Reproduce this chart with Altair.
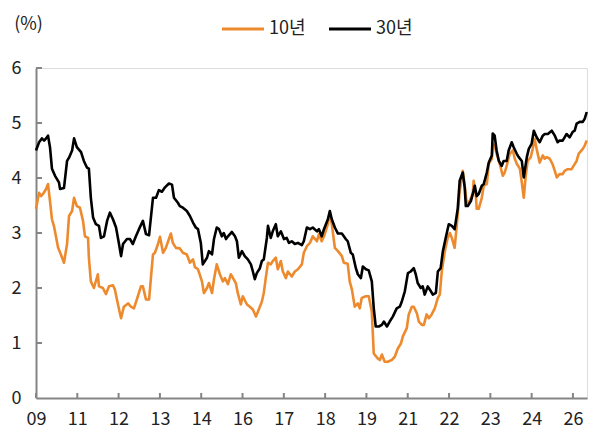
import altair as alt
import pandas as pd

# ---- data (time index in ~months, yield in %) ----
T_10Y = [0.0, 1.1, 1.8, 2.5, 3.6, 4.3, 5.0, 5.7, 6.4, 7.9,
         8.9, 10.0, 11.1, 11.8, 12.9, 13.6, 14.6, 15.7, 16.8, 17.5,
         18.6, 18.9, 19.6, 20.7, 22.1, 22.5, 23.9, 25.0, 26.1, 27.5,
         28.2, 29.3, 30.4, 31.4, 32.9, 33.9, 35.0, 36.4, 37.5, 38.2,
         39.3, 40.4, 41.8, 42.5, 43.6, 44.3, 45.4, 46.4, 47.5, 48.2,
         48.9, 50.0, 51.4, 52.5, 53.9, 55.0, 56.1, 56.8, 57.9, 59.3,
         60.0, 61.1, 61.8, 62.9, 63.6, 64.6, 65.7, 66.8, 67.5, 68.6,
         69.6, 70.4, 71.4, 72.1, 73.2, 73.9, 75.4, 76.4, 77.5, 78.6,
         79.3, 80.7, 81.4, 82.1, 82.9, 83.9, 84.6, 85.7, 86.4, 87.5,
         88.2, 89.3, 90.0, 91.4, 92.5, 93.6, 95.0, 95.7, 96.8, 97.9,
         98.9, 100.4, 101.1, 102.1, 102.9, 103.9, 104.3, 105.0, 105.7, 106.8,
         107.9, 109.3, 110.0, 111.4, 112.1, 112.9, 113.9, 115.0, 115.7, 116.4,
         117.9, 118.9, 120.0, 120.7, 122.1, 122.9, 123.6, 124.6, 125.7, 127.1,
         128.2, 129.3, 130.4, 131.1, 132.5, 133.2, 134.3, 135.0, 136.1, 136.8,
         137.9, 138.6, 139.6, 140.4, 141.4, 142.5, 143.6, 144.3, 145.0, 146.1,
         147.1, 147.9, 148.6, 149.6, 150.4, 151.4, 152.5, 153.2, 153.9, 155.0,
         156.1, 156.4, 157.1, 157.5, 158.2, 159.3, 160.0, 161.1, 161.8, 162.9,
         163.2, 163.9, 164.6, 165.7, 166.8, 167.5, 168.2, 169.3, 170.4, 171.1,
         171.8, 172.9, 173.6, 174.3, 175.0, 175.7, 176.8, 177.5, 178.2, 178.9,
         180.0, 181.1, 181.8, 182.5, 183.6, 184.6, 185.4, 186.1, 187.1, 188.2,
         188.9, 190.0, 191.4, 192.1, 193.2, 193.9, 195.4, 196.1, 196.8]
V_10Y = [3.44, 3.73, 3.67, 3.71, 3.80, 3.89, 3.58, 3.25, 3.13, 2.73,
         2.61, 2.46, 2.80, 3.31, 3.40, 3.64, 3.49, 3.46, 3.22, 2.94,
         2.91, 2.55, 2.12, 2.00, 2.25, 2.03, 2.00, 1.89, 2.03, 2.05,
         1.97, 1.70, 1.45, 1.66, 1.72, 1.66, 1.63, 1.85, 2.03, 2.03,
         1.79, 1.79, 2.61, 2.64, 2.80, 2.93, 2.64, 2.73, 2.89, 2.99,
         2.82, 2.73, 2.72, 2.64, 2.61, 2.46, 2.52, 2.38, 2.34, 2.12,
         1.91, 2.00, 2.09, 1.91, 2.16, 2.43, 2.25, 2.12, 2.18, 2.07,
         2.25, 2.18, 2.09, 1.91, 1.70, 1.85, 1.70, 1.66, 1.61, 1.48,
         1.57, 1.75, 1.91, 2.18, 2.46, 2.43, 2.49, 2.55, 2.34, 2.49,
         2.30, 2.18, 2.30, 2.21, 2.30, 2.34, 2.43, 2.64, 2.76, 2.82,
         2.94, 2.85, 2.98, 2.85, 2.94, 3.10, 3.16, 3.37, 3.16, 2.73,
         2.67, 2.58, 2.46, 2.44, 2.12, 1.97, 1.66, 1.72, 1.63, 1.82,
         1.85, 1.85, 1.57, 0.81, 0.72, 0.69, 0.79, 0.66, 0.66, 0.69,
         0.75, 0.90, 0.99, 1.12, 1.27, 1.52, 1.66, 1.66, 1.54, 1.39,
         1.33, 1.33, 1.52, 1.45, 1.52, 1.63, 1.82, 1.88, 2.30, 2.67,
         2.91, 3.00, 2.91, 2.73, 3.16, 3.75, 4.13, 3.86, 3.55, 3.58,
         3.73, 3.95, 3.73, 3.44, 3.44, 3.64, 3.86, 3.89, 4.26, 4.35,
         4.62, 4.59, 4.44, 4.26, 4.04, 4.10, 4.22, 4.44, 4.50, 4.35,
         4.26, 4.17, 3.92, 3.64, 4.04, 4.31, 4.38, 4.53, 4.71, 4.53,
         4.28, 4.41, 4.35, 4.38, 4.35, 4.25, 4.13, 4.01, 4.07, 4.07,
         4.13, 4.16, 4.16, 4.22, 4.31, 4.44, 4.53, 4.59, 4.68]

T_30Y = [0.0, 1.1, 2.1, 2.9, 3.9, 4.3, 5.0, 5.7, 6.8, 8.2,
         8.6, 10.0, 11.1, 11.8, 12.9, 13.6, 14.6, 16.1, 17.1, 18.2,
         18.9, 19.6, 20.4, 21.4, 22.5, 23.2, 24.3, 25.4, 26.4, 27.5,
         28.6, 29.6, 30.4, 31.1, 32.5, 33.6, 34.6, 35.7, 36.8, 38.2,
         39.3, 40.4, 41.8, 42.9, 43.9, 45.0, 46.1, 47.5, 48.6, 49.3,
         50.7, 51.4, 52.5, 53.9, 55.0, 56.1, 57.1, 57.9, 58.9, 59.6,
         61.1, 61.8, 62.9, 63.6, 64.6, 65.4, 66.4, 67.1, 67.9, 68.6,
         70.0, 71.1, 71.8, 72.5, 73.6, 74.6, 75.7, 76.8, 77.5, 78.2,
         78.9, 80.0, 80.7, 81.4, 82.5, 82.9, 83.9, 84.6, 85.7, 86.4,
         87.5, 88.6, 89.6, 90.4, 91.4, 92.5, 93.6, 95.0, 95.7, 96.8,
         97.9, 98.9, 100.4, 101.1, 102.1, 102.9, 104.3, 105.0, 105.7, 106.8,
         107.9, 109.3, 110.7, 111.4, 112.5, 113.2, 114.3, 115.0, 116.1, 116.8,
         117.9, 118.9, 120.0, 120.7, 121.4, 122.5, 123.6, 124.3, 125.4, 126.4,
         127.5, 128.9, 130.0, 130.7, 131.8, 132.9, 133.9, 135.0, 135.7, 136.4,
         137.5, 138.2, 138.9, 140.0, 141.1, 141.8, 142.9, 143.6, 144.6, 145.4,
         146.4, 147.5, 148.6, 149.6, 150.7, 151.4, 152.5, 153.2, 153.6, 154.3,
         155.4, 156.1, 156.8, 157.5, 158.2, 159.3, 160.0, 161.1, 161.8, 162.9,
         163.2, 163.9, 164.6, 165.4, 166.4, 167.1, 168.2, 168.9, 170.0, 170.7,
         171.8, 172.5, 173.6, 174.3, 175.4, 176.1, 177.1, 177.9, 178.9, 180.0,
         181.1, 181.8, 182.9, 184.3, 185.4, 186.4, 187.1, 188.2, 188.9, 189.6,
         190.7, 191.8, 192.5, 193.2, 194.3, 195.4, 196.1, 196.8]
V_30Y = [4.50, 4.65, 4.72, 4.68, 4.74, 4.77, 4.56, 4.17, 4.04, 3.92,
         3.80, 3.82, 4.31, 4.37, 4.50, 4.72, 4.56, 4.47, 4.31, 4.19,
         4.17, 3.64, 3.28, 3.16, 3.13, 2.91, 2.94, 3.22, 3.37, 3.25,
         3.10, 2.82, 2.58, 2.80, 2.89, 2.89, 2.80, 2.94, 3.07, 3.22,
         2.98, 2.96, 3.64, 3.64, 3.78, 3.75, 3.83, 3.90, 3.88, 3.64,
         3.55, 3.49, 3.46, 3.40, 3.31, 3.19, 3.10, 3.07, 2.82, 2.43,
         2.55, 2.67, 2.61, 2.89, 3.10, 3.07, 2.94, 3.00, 2.89, 2.94,
         3.02, 2.94, 2.85, 2.55, 2.67, 2.58, 2.52, 2.43, 2.30, 2.16,
         2.27, 2.36, 2.49, 2.52, 2.91, 3.13, 2.91, 3.03, 3.16, 2.94,
         3.03, 2.89, 2.91, 2.82, 2.85, 2.80, 2.82, 2.78, 2.85, 3.10,
         3.07, 3.10, 3.03, 3.07, 2.94, 3.07, 3.25, 3.40, 3.25, 3.10,
         2.99, 2.99, 2.89, 2.85, 2.64, 2.61, 2.36, 2.25, 2.18, 2.39,
         2.34, 2.32, 2.12, 1.63, 1.30, 1.30, 1.33, 1.39, 1.30, 1.39,
         1.48, 1.63, 1.66, 1.75, 1.94, 2.27, 2.30, 2.36, 2.25, 2.09,
         2.00, 2.03, 1.88, 2.03, 1.94, 1.88, 1.91, 2.30, 2.36, 2.67,
         2.91, 3.16, 3.13, 3.07, 3.44, 3.95, 4.10, 3.83, 3.49, 3.49,
         3.58, 3.71, 3.86, 3.67, 3.71, 3.86, 3.89, 4.10, 4.28, 4.41,
         4.81, 4.77, 4.50, 4.31, 4.22, 4.31, 4.31, 4.50, 4.65, 4.56,
         4.44, 4.38, 4.31, 4.01, 4.38, 4.53, 4.62, 4.86, 4.74, 4.65,
         4.77, 4.80, 4.80, 4.86, 4.77, 4.65, 4.68, 4.68, 4.74, 4.80,
         4.74, 4.84, 4.86, 4.99, 5.02, 5.02, 5.08, 5.20]

SERIES = ["10년", "30년"]
COLORS = ["#EE8A2E", "#000000"]
TICK_LABELS = ["09", "11", "12", "13", "14", "16", "17", "18", "19",
               "21", "22", "23", "24", "26"]
TICK_STEP = 14.76          # time-index spacing between labelled ticks
T_END = 196.9              # end of the time axis
Y_TICKS = [1, 2, 3, 4, 5, 6]

# ---- build tables ----
df = pd.concat([
    pd.DataFrame({"t": T_10Y, "v": V_10Y, "s": SERIES[0]}),
    pd.DataFrame({"t": T_30Y, "v": V_30Y, "s": SERIES[1]}),
], ignore_index=True)
tick_vals = [round(i * TICK_STEP, 3) for i in range(len(TICK_LABELS))]
xtick_df = pd.DataFrame({"t": tick_vals})
ytick_df = pd.DataFrame({"v": Y_TICKS})

W, H = 551, 330
FONT = "Noto Sans CJK KR"
AXIS_GREY = "#858585"
TEXT = "#222222"

xscale = alt.Scale(domain=[0, T_END], nice=False, zero=False)
yscale = alt.Scale(domain=[0, 6], nice=False)

label_arr = "[" + ",".join("'%s'" % l for l in TICK_LABELS) + "]"
x_axis = alt.Axis(values=tick_vals,
                  labelExpr=label_arr + "[round(datum.value/" + str(TICK_STEP) + ")]",
                  ticks=False, grid=False, domainColor=AXIS_GREY, domainWidth=2,
                  labelFontSize=18, labelFont=FONT, labelColor=TEXT,
                  labelPadding=12, labelFlush=False, labelOverlap=False, title=None)
y_axis = alt.Axis(values=[0, 1, 2, 3, 4, 5, 6], format="d", ticks=False, grid=False,
                  domainColor=AXIS_GREY, domainWidth=2,
                  labelFontSize=18, labelFont=FONT, labelColor=TEXT,
                  labelPadding=15, labelAlign="right",
                  title="(%)", titleAngle=0, titleX=-8, titleY=-44,
                  titleAlign="center", titleBaseline="middle",
                  titleFontSize=18, titleFont=FONT, titleFontWeight="normal",
                  titleColor=TEXT)

color = alt.Color("s:N", scale=alt.Scale(domain=SERIES, range=COLORS),
                  legend=alt.Legend(title=None, orient="none", legendX=184, legendY=-62,
                                    direction="horizontal", symbolType="stroke",
                                    symbolSize=1764, symbolStrokeWidth=3.2,
                                    labelFontSize=18, labelFont=FONT, labelColor=TEXT,
                                    labelOffset=3, columnPadding=16, padding=0))

def series_line(name):
    return (alt.Chart(df)
            .transform_filter(alt.datum.s == name)
            .mark_line(strokeWidth=2.6, strokeJoin="round")
            .encode(x=alt.X("t:Q", scale=xscale, axis=x_axis),
                    y=alt.Y("v:Q", scale=yscale, axis=y_axis),
                    color=color))

xticks = (alt.Chart(xtick_df).mark_rule(color=AXIS_GREY, strokeWidth=2)
          .encode(x=alt.X("t:Q", scale=xscale), y=alt.value(H), y2=alt.value(H - 5)))
yticks = (alt.Chart(ytick_df).mark_rule(color=AXIS_GREY, strokeWidth=2)
          .encode(y=alt.Y("v:Q", scale=yscale), x=alt.value(0), x2=alt.value(6)))

chart = (alt.layer(series_line(SERIES[0]), series_line(SERIES[1]), xticks, yticks)
         .properties(width=W, height=H, autosize="none",
                     padding={"left": 28, "top": 60, "right": 20, "bottom": 40})
         .configure_view(stroke=None)
         .configure(font=FONT, background="white"))

chart.save("out.html", embed_options={"renderer": "svg", "actions": False})
